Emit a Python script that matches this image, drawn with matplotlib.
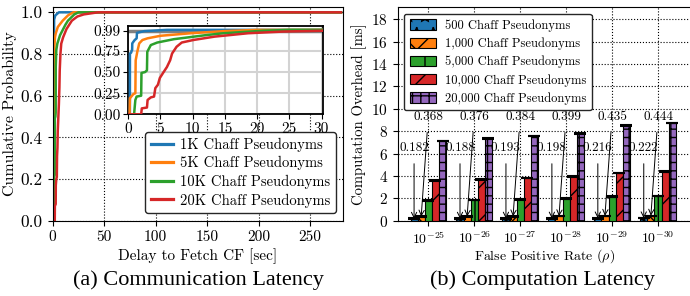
import matplotlib
matplotlib.use("Agg")
import numpy as np
import matplotlib.pyplot as plt

plt.rcParams["font.family"] = ["cmr10", "DejaVu Serif"]
plt.rcParams["mathtext.fontset"] = "cm"
plt.rcParams["axes.formatter.use_mathtext"] = True
plt.rcParams["axes.unicode_minus"] = False
plt.rcParams["hatch.linewidth"] = 1.0

# ---- (a) CDF of delay to fetch CF ----
cdf_labels = ["1K Chaff Pseudonyms", "5K Chaff Pseudonyms",
              "10K Chaff Pseudonyms", "20K Chaff Pseudonyms"]
cdf_colors = ["#1f77b4", "#ff7f0e", "#2ca02c", "#d62728"]

x_1k = [0.0, 0.25, 0.26, 0.45, 0.5, 0.6, 0.62, 0.9, 1.0, 1.3, 1.35, 2.5, 6.0, 280]
y_1k = [0.0, 0.0, 0.72, 0.73, 0.75, 0.76, 0.84, 0.87, 0.88, 0.90, 0.965, 0.985, 1.0, 1.0]

x_5k = [0.0, 0.2, 0.25, 0.8, 1.1, 1.15, 1.4, 1.7, 2.2, 3.0, 5.0, 9.7, 14.8, 16.5, 20.0, 280]
y_5k = [0.0, 0.0, 0.19, 0.24, 0.25, 0.64, 0.74, 0.84, 0.88, 0.90, 0.93, 0.96, 0.985, 0.99, 1.0, 1.0]

x_10k = [0.0, 0.9, 1.1, 1.3, 2.0, 2.05, 2.6, 2.9, 2.95, 3.5, 4.5, 7.1, 12.3, 14.8, 21.0, 25.0, 280]
y_10k = [0.0, 0.0, 0.17, 0.21, 0.22, 0.49, 0.50, 0.52, 0.74, 0.82, 0.85, 0.89, 0.94, 0.96, 0.99, 1.0, 1.0]

x_20k = [0.0, 2.0, 2.1, 2.9, 3.0, 3.5, 4.0, 4.2, 4.6, 4.9, 5.4, 6.0, 6.5, 6.8,
         7.5, 8.3, 10.1, 13.4, 18.6, 24.0, 30.2, 44.0, 280]
y_20k = [0.0, 0.0, 0.07, 0.08, 0.17, 0.20, 0.21, 0.31, 0.35, 0.43, 0.49, 0.56, 0.64, 0.72,
         0.80, 0.85, 0.88, 0.92, 0.96, 0.98, 0.99, 1.0, 1.0]

cdf_x = [x_1k, x_5k, x_10k, x_20k]
cdf_y = [y_1k, y_5k, y_10k, y_20k]

# ---- (b) computation overhead [ms] ----
fpr_labels = [r"$10^{-25}$", r"$10^{-26}$", r"$10^{-27}$",
              r"$10^{-28}$", r"$10^{-29}$", r"$10^{-30}$"]
bar_labels = ["500 Chaff Pseudonyms", "1,000 Chaff Pseudonyms", "5,000 Chaff Pseudonyms",
              "10,000 Chaff Pseudonyms", "20,000 Chaff Pseudonyms"]
ovh_500 = [0.182, 0.188, 0.193, 0.198, 0.216, 0.222]
ovh_1000 = [0.368, 0.376, 0.384, 0.399, 0.435, 0.444]
ovh_5000 = [1.80, 1.85, 1.90, 1.98, 2.15, 2.20]
ovh_10000 = [3.60, 3.70, 3.83, 3.95, 4.25, 4.38]
ovh_20000 = [7.10, 7.35, 7.55, 7.80, 8.50, 8.75]
err_all = [0.02, 0.02, 0.02, 0.02, 0.02, 0.02]
bar_colors = ["#1f77b4", "#ff7f0e", "#2ca02c", "#d62728", "#9467bd"]
bar_hatches = ["*", "x", "|", "/", "++"]

fig = plt.figure(figsize=(6.9, 2.96), dpi=100)

# left panel
ax1 = fig.add_axes([0.0764, 0.2544, 0.4207, 0.7209])
for xs, ys, c, lab in zip(cdf_x, cdf_y, cdf_colors, cdf_labels):
    ax1.plot(xs, ys, color=c, lw=1.8, label=lab)
ax1.set_xlim(0, 282)
ax1.set_ylim(0, 1.024)
ax1.set_yticks([0, 0.2, 0.4, 0.6, 0.8, 1.0])
ax1.set_yticklabels(["0.0", "0.2", "0.4", "0.6", "0.8", "1.0"])
ax1.set_xticks([0, 50, 100, 150, 200, 250])
ax1.set_xticklabels(["0", "50", "100", "150", "200", "250"])
ax1.tick_params(axis="x", labelsize=11)
ax1.tick_params(axis="y", labelsize=12.5)
ax1.grid(True, ls=":", color="black", lw=0.8)
ax1.set_xlabel("Delay to Fetch CF [sec]", fontsize=11, labelpad=3)
ax1.set_ylabel("Cumulative Probability", fontsize=11.5, labelpad=3)
leg1 = ax1.legend(loc="lower right", fontsize=10.5, handlelength=1.5, handletextpad=0.45,
                  labelspacing=0.3, borderpad=0.4, framealpha=1, fancybox=True)
leg1.get_frame().set_edgecolor("0.15")
for ln in leg1.get_lines():
    ln.set_linewidth(2.3)

# inset
axi = fig.add_axes([0.1859, 0.6139, 0.2829, 0.2983])
for xs, ys, c in zip(cdf_x, cdf_y, cdf_colors):
    axi.plot(xs, ys, color=c, lw=1.8, zorder=3)
axi.axhline(0.99, color="gray", lw=2.5, zorder=2)
axi.set_xlim(0, 30.3)
axi.set_ylim(0, 1.046)
axi.set_yticks([0, 0.25, 0.5, 0.75, 0.99])
axi.set_yticklabels(["0.00", "0.25", "0.50", "0.75", "0.99"])
axi.set_xticks([0, 5, 10, 15, 20, 25, 30])
axi.set_xticklabels(["0", "5", "10", "15", "20", "25", "30"])
axi.tick_params(labelsize=11, pad=2)
axi.grid(True, color="lightgray", lw=1.5)
for s in axi.spines.values():
    s.set_linewidth(1.3)

# right panel
ax2 = fig.add_axes([0.5764, 0.2544, 0.4245, 0.7209])
x = np.arange(len(fpr_labels))
w = 0.155
series = [ovh_500, ovh_1000, ovh_5000, ovh_10000, ovh_20000]
for k, (vals, c, h, lab) in enumerate(zip(series, bar_colors, bar_hatches, bar_labels)):
    ax2.bar(x + (k - 2) * w, vals, w, color=c, edgecolor="black", lw=0.8, hatch=h,
            label=lab, yerr=err_all, capsize=4,
            error_kw=dict(ecolor="black", elinewidth=1, capthick=1.5), zorder=3)

for i in range(len(x)):
    ax2.annotate(f"{ovh_500[i]:.3f}", xy=(x[i] - 2 * w, ovh_500[i]), xytext=(x[i] - 0.31, 6.5),
                 ha="center", va="center", fontsize=9.5,
                 arrowprops=dict(arrowstyle="->", color="black", lw=0.7, shrinkA=5, shrinkB=0))
    ax2.annotate(f"{ovh_1000[i]:.3f}", xy=(x[i] - w, ovh_1000[i]), xytext=(x[i], 9.3),
                 ha="center", va="center", fontsize=9.5,
                 arrowprops=dict(arrowstyle="->", color="black", lw=0.7, shrinkA=5, shrinkB=0))

ax2.set_xlim(-0.666, 5.71)
ax2.set_ylim(0, 19.07)
ax2.set_yticks(np.arange(0, 19, 2))
ax2.set_xticks(x)
ax2.set_xticklabels(fpr_labels)
ax2.tick_params(axis="x", labelsize=10)
ax2.tick_params(axis="y", labelsize=11)
ax2.grid(True, ls=":", color="black", lw=0.8, zorder=0)
ax2.set_axisbelow(True)
ax2.set_xlabel(r"False Positive Rate ($\rho$)", fontsize=10, labelpad=0)
ax2.set_ylabel("Computation Overhead [ms]", fontsize=10.5, labelpad=3)
leg2 = ax2.legend(loc="upper left", fontsize=9, handlelength=2.1, handleheight=0.9,
                  handletextpad=0.7, labelspacing=0.45, borderpad=0.45, framealpha=1)
leg2.get_frame().set_edgecolor("0.15")

fig.text(0.287, 0.054, "(a) Communication Latency", ha="center", va="center",
         family="Liberation Serif", fontsize=16)
fig.text(0.786, 0.054, "(b) Computation Latency", ha="center", va="center",
         family="Liberation Serif", fontsize=16)

fig.savefig("out.png", dpi=100)
